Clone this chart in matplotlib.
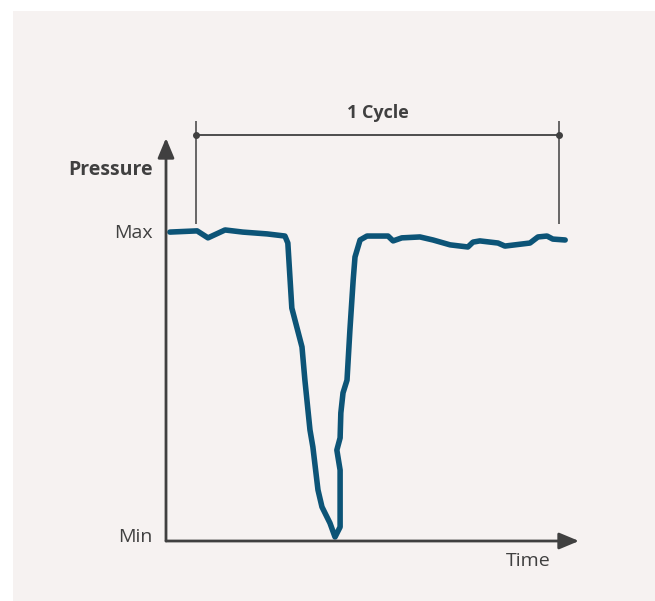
import matplotlib
matplotlib.use("Agg")
import matplotlib.pyplot as plt
from matplotlib.patches import Rectangle

W, H = 655, 601
BG, INK, BLUE = "#f6f2f1", "#404040", "#0c5477"
plt.rcParams["font.family"] = ["Open Sans", "DejaVu Sans"]

# one pressure cycle: time as fraction of the cycle, pressure 0 = Min, 1 = Max
time = [-0.072, 0.003, 0.033, 0.080, 0.129, 0.196, 0.245, 0.253, 0.264, 0.292,
        0.300, 0.314, 0.322, 0.336, 0.347, 0.369, 0.383, 0.397, 0.397, 0.388,
        0.397, 0.399, 0.405, 0.416, 0.424, 0.433, 0.438, 0.452, 0.471, 0.529,
        0.543, 0.567, 0.617, 0.653, 0.700, 0.749, 0.763, 0.782, 0.832, 0.851,
        0.920, 0.942, 0.967, 0.983, 1.017]
pressure = [1.003, 1.007, 0.984, 1.010, 1.003, 0.997, 0.990, 0.967, 0.753, 0.625,
            0.516, 0.352, 0.296, 0.155, 0.099, 0.046, 0.000, 0.033, 0.220, 0.286,
            0.326, 0.408, 0.474, 0.516, 0.681, 0.845, 0.921, 0.977, 0.990, 0.990,
            0.974, 0.984, 0.987, 0.977, 0.961, 0.954, 0.970, 0.974, 0.967, 0.957,
            0.967, 0.987, 0.990, 0.980, 0.977]
levels = [0, 1]
level_labels = ["Min", "Max"]
cycle = [0.0, 1.0]

# pixel -> data: cycle start at x=196, 363 px per cycle; Min at y=537, 304 px per unit
X0, SX, Y0, SY = 196, 363, 537, 304


def px(x, y):
    return (x - X0) / SX, (Y0 - y) / SY


fig = plt.figure(figsize=(W / 100, H / 100), dpi=100, facecolor="white")
ax = fig.add_axes([0, 0, 1, 1])
ax.set_axis_off()
ax.set_xlim(px(0, 0)[0], px(W, 0)[0])
ax.set_ylim(px(0, H)[1], px(0, 0)[1])
ax.add_patch(Rectangle((13 / W, 0), 1, 1 - 11 / H, transform=ax.transAxes,
                       facecolor=BG, edgecolor="none", zorder=0))

# axes with arrow heads
origin = px(166, 541)
arrow = dict(arrowstyle="-|>,head_length=1.2,head_width=0.5", lw=2, color=INK,
             shrinkA=0, shrinkB=0, mutation_scale=10)
ax.annotate("", xy=(origin[0], px(0, 138)[1]), xytext=origin, arrowprops=arrow)
ax.annotate("", xy=(px(579, 0)[0], origin[1]), xytext=origin, arrowprops=arrow)

# cycle bracket
yb = px(0, 135)[1]
ax.vlines(cycle, px(0, 224)[1], px(0, 121)[1], color=INK, lw=1.1)
ax.plot(cycle, [yb, yb], color=INK, lw=1.3, marker="o", ms=4)
ax.text(sum(cycle) / 2, px(0, 113)[1], "1 Cycle", ha="center", va="center",
        fontsize=13, fontweight="bold", color=INK)

# pressure curve
ax.plot(time, pressure, color=BLUE, lw=4, solid_joinstyle="round",
        solid_capstyle="round")

xl = px(153, 0)[0]
for lv, lab in zip(levels, level_labels):
    ax.text(xl, lv, lab, ha="right", va="center", fontsize=14, color=INK)
ax.text(xl, px(0, 170)[1], "Pressure", ha="right", va="center", fontsize=14,
        fontweight="bold", color=INK)
ax.text(px(528, 0)[0], px(0, 561)[1], "Time", ha="center", va="center",
        fontsize=14, color=INK)

fig.savefig("out.png", dpi=100, facecolor="white")
